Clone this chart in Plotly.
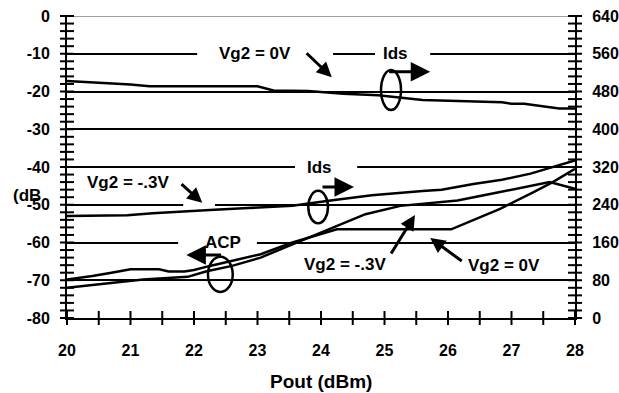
import numpy as np
import plotly.graph_objects as go

# ---------------- data ----------------
# Ids, Vg2 = 0V  (right axis, mA)
ids_0v_x = [20.0, 21.0, 21.3, 23.0, 23.25, 23.8, 24.35, 24.9, 25.6, 26.85, 27.0, 27.2, 27.75, 28.0]
ids_0v_y = [502, 495, 491, 491, 482, 481, 475, 472, 462, 457, 454, 454, 444, 444]

# Ids, Vg2 = -0.3V (right axis, mA)
ids_m03_x = [20.0, 20.95, 21.35, 22.0, 22.25, 22.85, 23.55, 24.15, 24.8, 25.6, 25.9, 26.4, 26.85, 27.3, 27.6, 28.0]
ids_m03_y = [216, 218, 222, 226, 229, 233, 238, 249, 260, 269, 272, 284, 293, 306, 318, 334]

# ACP, Vg2 = 0V (left axis, dB)
acp_0v_x = [20.0, 20.4, 20.7, 21.0, 21.45, 21.6, 21.85, 22.0, 22.25, 22.6, 23.05, 23.55, 23.9, 24.25,
            26.05, 26.4, 26.82, 27.34, 27.65, 28.0]
acp_0v_y = [-69.8, -68.9, -68.0, -67.1, -67.1, -67.7, -67.7, -67.3, -66.2, -64.9, -63.1, -60.0, -58.3, -56.5,
            -56.5, -54.0, -51.1, -46.7, -44.0, -40.5]

# ACP, Vg2 = -0.3V (left axis, dB)
acp_m03_x = [20.0, 20.7, 21.2, 21.9, 22.2, 22.6, 23.05, 23.55, 24.2, 24.7, 25.25, 26.15, 26.8, 27.6, 28.0]
acp_m03_y = [-72.0, -70.7, -69.8, -69.1, -67.6, -66.2, -64.0, -60.5, -56.0, -52.5, -50.3, -48.9, -46.7, -44.0, -45.8]

x_tick_labels = ["20", "21", "22", "23", "24", "25", "26", "27", "28"]
left_tick_labels = ["-80", "-70", "-60", "-50", "-40", "-30", "-20", "-10", "0"]
right_tick_labels = ["0", "80", "160", "240", "320", "400", "480", "560", "640"]

# ---------------- styling ----------------
FONT = "Liberation Sans, Arial, sans-serif"
BLACK = "black"

fig = go.Figure()

line_style = dict(color=BLACK, width=2.5)
fig.add_trace(go.Scatter(x=ids_0v_x, y=ids_0v_y, mode="lines", line=line_style, yaxis="y2", name="Ids Vg2=0V"))
fig.add_trace(go.Scatter(x=ids_m03_x, y=ids_m03_y, mode="lines", line=line_style, yaxis="y2", name="Ids Vg2=-.3V"))
fig.add_trace(go.Scatter(x=acp_0v_x, y=acp_0v_y, mode="lines", line=line_style, name="ACP Vg2=0V"))
fig.add_trace(go.Scatter(x=acp_m03_x, y=acp_m03_y, mode="lines", line=line_style, name="ACP Vg2=-.3V"))

# crossing tick marks (drawn with markers on the axis scales)
y_minor = np.arange(-80, 0.1, 2)
x_minor = np.arange(20, 28.01, 0.5)
tick_marker_ew = dict(symbol="line-ew", size=10, line=dict(color=BLACK, width=2))
tick_marker_ns = dict(symbol="line-ns", size=10, line=dict(color=BLACK, width=2))
fig.add_trace(go.Scatter(x=[20] * len(y_minor), y=y_minor, mode="markers", marker=tick_marker_ew,
                         cliponaxis=False, hoverinfo="skip"))
fig.add_trace(go.Scatter(x=[28] * len(y_minor), y=y_minor, mode="markers", marker=tick_marker_ew,
                         cliponaxis=False, hoverinfo="skip"))
fig.add_trace(go.Scatter(x=x_minor, y=[-80] * len(x_minor), mode="markers", marker=tick_marker_ns,
                         cliponaxis=False, hoverinfo="skip"))

tickfont = dict(family=FONT, size=16, color=BLACK, weight="bold")

fig.update_layout(
    width=619, height=393,
    margin=dict(l=67, r=44, t=16, b=75),
    plot_bgcolor="white", paper_bgcolor="white",
    showlegend=False,
    xaxis=dict(range=[20, 28], tickvals=list(range(20, 29)), ticktext=x_tick_labels,
               showgrid=False, zeroline=False, showline=True, linecolor=BLACK, linewidth=2,
               ticks="", tickfont=tickfont, ticklabelstandoff=17, automargin=False),
    yaxis=dict(range=[-80, 0], tickvals=list(range(-80, 1, 10)), ticktext=left_tick_labels,
               showgrid=True, gridcolor=BLACK, gridwidth=2, zeroline=False,
               showline=True, linecolor=BLACK, linewidth=2, ticks="",
               tickfont=tickfont, ticklabelstandoff=12, automargin=False),
    yaxis2=dict(range=[0, 640], tickvals=list(range(0, 641, 80)), ticktext=right_tick_labels,
                overlaying="y", side="right", showgrid=False, zeroline=False,
                showline=True, linecolor=BLACK, linewidth=2, ticks="",
                tickfont=tickfont, ticklabelstandoff=12, automargin=False),
)

# x-axis title
fig.add_annotation(x=0.5, y=-0.209, xref="paper", yref="paper", text="Pout (dBm)", showarrow=False,
                   font=dict(family=FONT, size=19, color=BLACK, weight="bold"),
                   xanchor="center", yanchor="middle")

# top gray line
fig.add_shape(type="line", xref="paper", x0=0, x1=1, yref="y", y0=0, y1=0,
              line=dict(color="#a0a0a0", width=2), layer="between")

# gaps in gridlines behind labels
gaps = [(22.05, 24.19, -10), (24.85, 25.72, -10), (23.59, 24.57, -40), (21.83, 22.33, -50), (21.75, 22.99, -60)]
for gx0, gx1, gy in gaps:
    fig.add_shape(type="rect", xref="x", yref="y", x0=gx0, x1=gx1, y0=gy - 1.2, y1=gy + 1.2,
                  fillcolor="white", line=dict(width=0), layer="between")

# ellipses
ellipses = [(24.945, 25.26, -14.3, -24.9), (23.8, 24.11, -46.3, -54.9), (22.22, 22.61, -63.8, -73.1)]
for ex0, ex1, ey0, ey1 in ellipses:
    fig.add_shape(type="circle", xref="x", yref="y", x0=ex0, x1=ex1, y0=ey0, y1=ey1,
                  line=dict(color=BLACK, width=2.5), fillcolor="rgba(0,0,0,0)", layer="above")

afont = dict(family=FONT, size=17, color=BLACK, weight="bold")
texts = [("Vg2 = 0V", 22.96, -10), ("Ids", 25.17, -10), ("Vg2 = -.3V", 20.96, -44.0),
         ("Ids", 23.98, -40), ("ACP", 22.46, -60), ("Vg2 = -.3V", 24.38, -65.7), ("Vg2 = 0V", 26.88, -66.0)]
for t, tx, ty in texts:
    fig.add_annotation(x=tx, y=ty, xref="x", yref="y", text=t, showarrow=False, font=afont)

# arrows: (head x, head y, tail x, tail y, arrowsize)
arrows = [(24.17, -16.2, 23.75, -9.5, 1.0), (25.72, -14.75, 25.05, -14.75, 1.3),
          (22.13, -49.5, 21.78, -44.2, 1.0), (24.52, -45.3, 24.0, -45.3, 1.3),
          (21.88, -63.3, 22.45, -63.3, 1.3),
          (25.48, -52.7, 25.09, -63.3, 1.0), (25.72, -58.8, 26.24, -65.2, 1.0)]
for hx, hy, tx, ty, asz in arrows:
    fig.add_annotation(x=hx, y=hy, xref="x", yref="y", ax=tx, ay=ty, axref="x", ayref="y",
                       text="", showarrow=True, arrowhead=2, arrowsize=asz, arrowwidth=3,
                       arrowcolor=BLACK, standoff=0, startstandoff=0)

# left axis title fragment
fig.add_annotation(x=-0.079, y=-47.5, xref="paper", yref="y", text="(dB", showarrow=False,
                   font=afont, xanchor="center")

fig.write_html("out.html", config={"displayModeBar": False},
               post_script="document.body.style.margin='0';")
